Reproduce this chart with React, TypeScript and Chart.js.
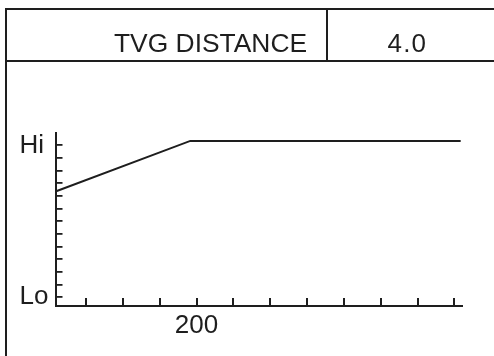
import React, { useEffect, useRef } from 'react';
import { Chart, registerables } from 'chart.js';

Chart.register(...registerables);

// ---- data ----
const headerTitle = 'TVG DISTANCE';
const headerValue = '4.0';
const distance = [8.6, 191.5, 558.4];
const gain = [8.35, 12.35, 12.35];
const xTickValues = [50, 100, 150, 200, 250, 300, 350, 400, 450, 500, 550];
const xTickLabels = ['', '', '', '200', '', '', '', '', '', '', ''];
const yTickValues = [0, 1, 2, 3, 4, 5, 6, 7, 8, 9, 10, 11, 12];
const yTickLabels = ['Lo', '', '', '', '', '', '', '', '', '', '', '', 'Hi'];
const xMin = 8.6;
const xMax = 560.6;
const yMin = -0.7;
const yMax = 13.0;

const INK = '#1e1e1e';
const FONT = '"Liberation Sans", Arial, Helvetica, sans-serif';

export default function App() {
  const ref = useRef<HTMLCanvasElement | null>(null);

  useEffect(() => {
    if (!ref.current) return;
    const chart = new Chart(ref.current, {
      type: 'line',
      data: {
        datasets: [
          {
            data: distance.map((x, i) => ({ x, y: gain[i] })),
            borderColor: INK,
            borderWidth: 2,
            pointRadius: 0,
            tension: 0,
            fill: false,
          },
        ],
      },
      options: {
        animation: false,
        responsive: false,
        events: [],
        layout: { padding: { left: 19.5, top: 132.7, right: 31.7, bottom: 0 } },
        plugins: { legend: { display: false }, tooltip: { enabled: false }, title: { display: false } },
        scales: {
          x: {
            type: 'linear',
            min: xMin,
            max: xMax,
            afterBuildTicks: (s: any) => {
              s.ticks = xTickValues.map((v) => ({ value: v }));
            },
            afterFit: (s: any) => {
              s.height = 50;
            },
            grid: {
              display: true,
              drawOnChartArea: false,
              drawTicks: true,
              tickLength: -8,
              color: INK,
              lineWidth: 2,
            },
            border: { display: true, color: INK, width: 2 },
            ticks: {
              autoSkip: false,
              maxRotation: 0,
              padding: 12,
              color: INK,
              font: { family: FONT, size: 26 },
              callback: (_v: any, i: number) => xTickLabels[i] ?? '',
            },
          },
          y: {
            type: 'linear',
            min: yMin,
            max: yMax,
            afterBuildTicks: (s: any) => {
              s.ticks = yTickValues.map((v) => ({ value: v }));
            },
            afterFit: (s: any) => {
              s.width = 36;
            },
            grid: {
              display: true,
              drawOnChartArea: false,
              drawTicks: true,
              tickLength: -7,
              color: INK,
              lineWidth: 1.8,
            },
            border: { display: true, color: INK, width: 2 },
            ticks: {
              autoSkip: false,
              crossAlign: 'far',
              padding: 0,
              color: INK,
              font: { family: FONT, size: 26 },
              callback: (_v: any, i: number) => yTickLabels[i] ?? '',
            },
          },
        },
      },
    } as any);
    return () => chart.destroy();
  }, []);

  const line: React.CSSProperties = { position: 'absolute', background: INK };
  const text: React.CSSProperties = {
    position: 'absolute',
    fontFamily: FONT,
    fontSize: 26,
    lineHeight: '26px',
    color: INK,
    whiteSpace: 'nowrap',
  };

  return (
    <div
      style={{
        position: 'fixed',
        left: 0,
        top: 0,
        width: 494,
        height: 356,
        overflow: 'hidden',
        background: '#fff',
      }}
    >
      <canvas ref={ref} width={494} height={356} style={{ position: 'absolute', left: 0, top: 0, width: 494, height: 356 }} />
      <div style={{ ...line, left: 5, top: 8, width: 600, height: 2 }} />
      <div style={{ ...line, left: 5, top: 8, width: 2, height: 400 }} />
      <div style={{ ...line, left: 5, top: 60, width: 600, height: 2 }} />
      <div style={{ ...line, left: 326, top: 8, width: 2, height: 54 }} />
      <div style={{ ...text, left: 114, top: 30, fontSize: 26.4 }}>{headerTitle}</div>
      <div style={{ ...text, left: 387.5, top: 30, letterSpacing: 1.2 }}>{headerValue}</div>
    </div>
  );
}
